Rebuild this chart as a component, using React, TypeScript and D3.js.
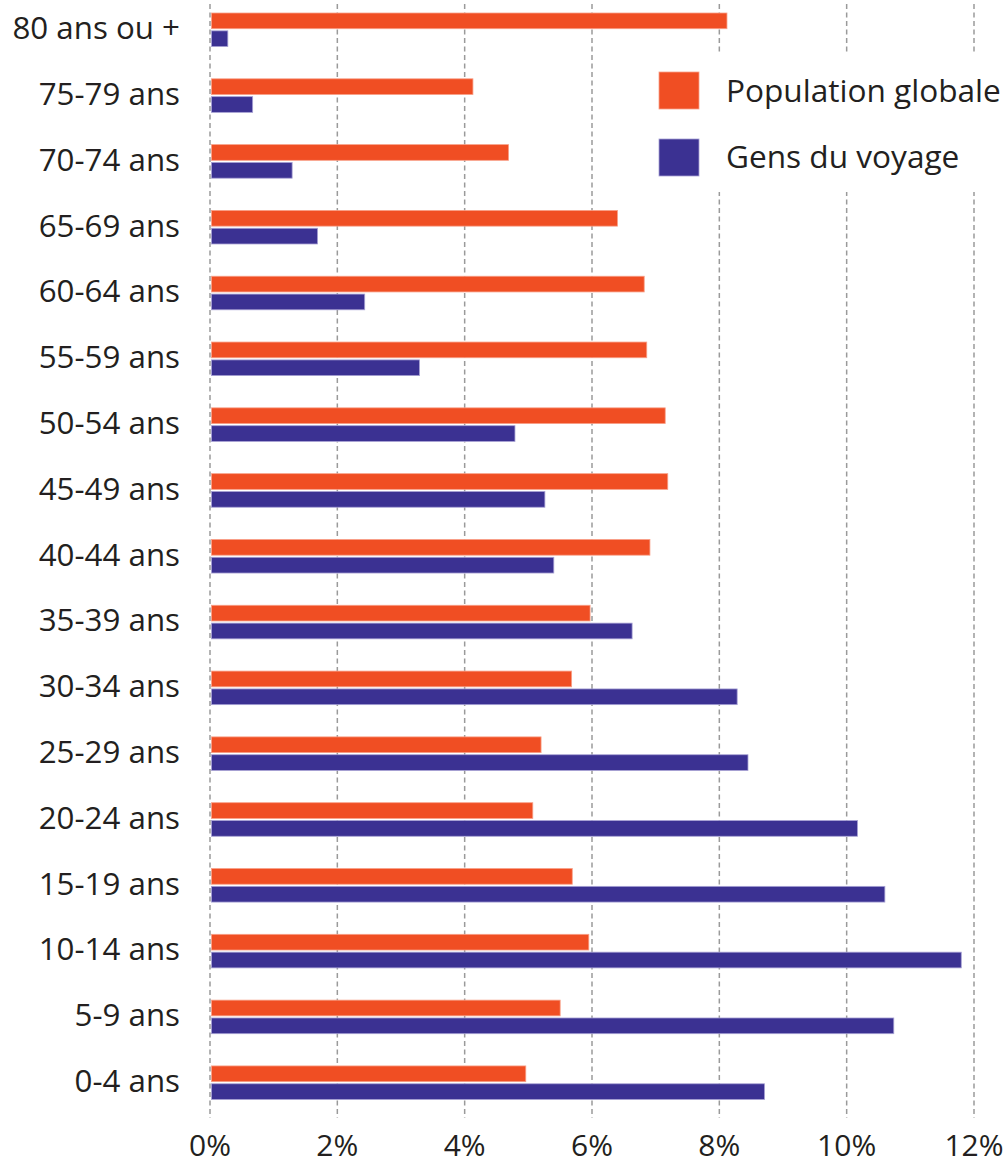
import React from 'react';
import * as d3 from 'd3';

// Age groups, top to bottom
const categories = [
  '80 ans ou +', '75-79 ans', '70-74 ans', '65-69 ans', '60-64 ans', '55-59 ans',
  '50-54 ans', '45-49 ans', '40-44 ans', '35-39 ans', '30-34 ans', '25-29 ans',
  '20-24 ans', '15-19 ans', '10-14 ans', '5-9 ans', '0-4 ans',
];

// Share of each age group (%)
const populationGlobale = [
  8.12, 4.13, 4.69, 6.40, 6.82, 6.86, 7.15, 7.19, 6.91, 5.97, 5.68, 5.20,
  5.07, 5.69, 5.95, 5.50, 4.96,
];
const gensDuVoyage = [
  0.28, 0.67, 1.29, 1.69, 2.43, 3.29, 4.79, 5.26, 5.40, 6.63, 8.28, 8.45,
  10.17, 10.60, 11.80, 10.74, 8.71,
];

const tickValues = [0, 2, 4, 6, 8, 10, 12];
const seriesNames = ['Population globale', 'Gens du voyage'];
const seriesColors = ['#F04E23', '#3B3192'];
const seriesStrokes = ['#F8A088', '#A7A1D4'];

const W = 1008;
const H = 1164;
const FONT = '"Open Sans", "Noto Sans", sans-serif';

export default function App() {
  const x = d3.scaleLinear().domain([0, 12]).range([210, 974]);

  const y = d3.scaleBand<string>()
    .domain(categories)
    .range([13, 1099.5])
    .paddingInner(0.49)
    .paddingOuter(0);

  const ySub = d3.scaleBand<string>()
    .domain(seriesNames)
    .range([0, y.bandwidth()])
    .paddingInner(0.12);

  const series = [populationGlobale, gensDuVoyage];

  return (
    <svg
      width={W}
      height={H}
      style={{ position: 'absolute', left: 0, top: 0, background: '#fff' }}
      fontFamily={FONT}
    >
      {/* grid lines */}
      <g>
        {tickValues.map(t => (
          <line
            key={t}
            x1={x(t)}
            x2={x(t)}
            y1={4}
            y2={1118}
            stroke="#9a9a9a"
            strokeWidth={1.5}
            strokeDasharray="5 3.5"
          />
        ))}
      </g>

      {/* bars */}
      {series.map((vals, si) => (
        <g key={si}>
          {categories.map((c, i) => (
            <rect
              key={c}
              x={x(0) + 1.5}
              y={(y(c) ?? 0) + (ySub(seriesNames[si]) ?? 0)}
              width={Math.max(0, x(vals[i]) - x(0) - 1.5)}
              height={ySub.bandwidth()}
              fill={seriesColors[si]}
              stroke={seriesStrokes[si]}
              strokeWidth={0.8}
            />
          ))}
        </g>
      ))}

      {/* category labels */}
      <g fontSize={31.3} fill="#231f20" textAnchor="end">
        {categories.map(c => (
          <text key={c} x={180} y={(y(c) ?? 0) + y.bandwidth() / 2} dy="0.3em">
            {c}
          </text>
        ))}
      </g>

      {/* x tick labels */}
      <g fontSize={30} fill="#231f20" textAnchor="middle">
        {tickValues.map(t => (
          <text key={t} x={x(t)} y={1156}>
            {t}%
          </text>
        ))}
      </g>

      {/* legend */}
      <g>
        <rect x={640} y={53} width={368} height={139} fill="#fff" />
        {seriesNames.map((name, i) => (
          <g key={name}>
            <rect
              x={659}
              y={72 + i * 67}
              width={40}
              height={37}
              fill={seriesColors[i]}
              stroke={seriesStrokes[i]}
              strokeWidth={0.8}
            />
            <text x={726} y={102 + i * 66} fontSize={31.6} fill="#231f20">
              {name}
            </text>
          </g>
        ))}
      </g>
    </svg>
  );
}
